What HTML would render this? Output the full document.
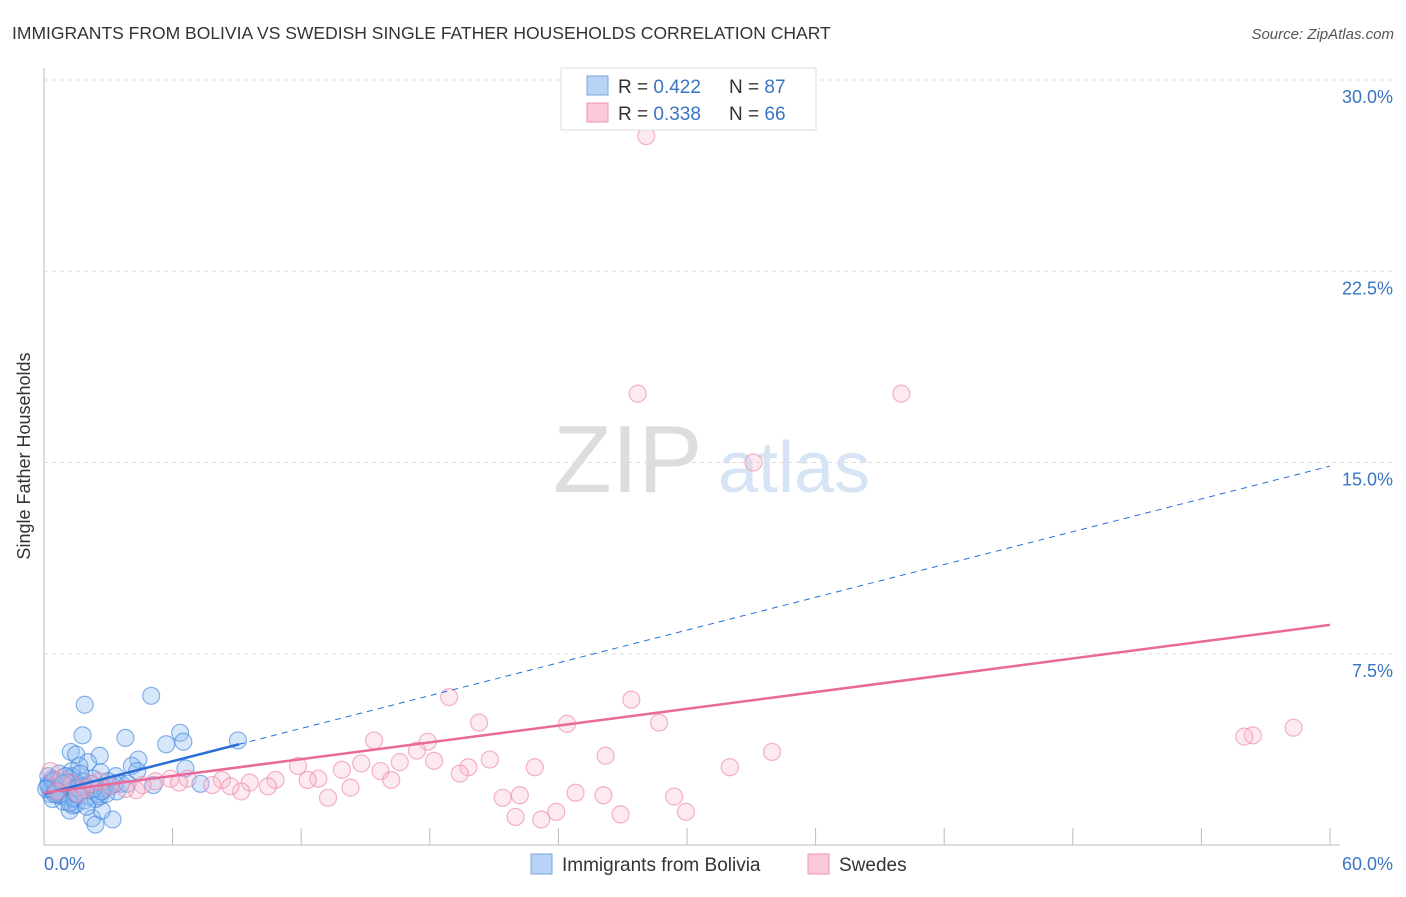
<!DOCTYPE html>
<html><head><meta charset="utf-8"><style>
body{margin:0;background:#fff;font-family:"Liberation Sans",sans-serif}
svg text{font-family:"Liberation Sans",sans-serif}
</style></head><body>
<svg width="1406" height="892" viewBox="0 0 1406 892">
<text x="12" y="39" font-size="17.5" fill="#333">IMMIGRANTS FROM BOLIVIA VS SWEDISH SINGLE FATHER HOUSEHOLDS CORRELATION CHART</text>
<text x="1394" y="39" font-size="15" fill="#555" font-style="italic" text-anchor="end">Source: ZipAtlas.com</text>
<text x="553" y="492" font-size="96" fill="#ddd" font-family="Liberation Serif">ZIP</text>
<text x="718" y="492" font-size="72" fill="#d6e4f5">atlas</text>
<g id="grid"></g>
<g id="pts"></g>
<g id="lines"></g>
<text transform="translate(30,456) rotate(-90)" font-size="18" fill="#333" text-anchor="middle">Single Father Households</text>
<text x="44" y="870" font-size="18" fill="#3a75c4">0.0%</text>
<text x="1393" y="870" font-size="18" fill="#3a75c4" text-anchor="end">60.0%</text>
<g>
<rect x="561" y="68" width="255" height="62" fill="#fff" stroke="#ddd"/>
<rect x="587" y="76" width="21" height="19" fill="#b8d3f5" stroke="#7aa6e0"/>
<rect x="587" y="103" width="21" height="19" fill="#fcc9d8" stroke="#ee94b0"/>
<text x="618" y="93" font-size="19" fill="#333">R = <tspan fill="#3a75c4">0.422</tspan></text>
<text x="729" y="93" font-size="19" fill="#333">N = <tspan fill="#3a75c4">87</tspan></text>
<text x="618" y="120" font-size="19" fill="#333">R = <tspan fill="#3a75c4">0.338</tspan></text>
<text x="729" y="120" font-size="19" fill="#333">N = <tspan fill="#3a75c4">66</tspan></text>
</g>
<g>
<rect x="531" y="854" width="21" height="20" fill="#b8d3f5" stroke="#7aa6e0"/>
<text x="562" y="871" font-size="19" fill="#333">Immigrants from Bolivia</text>
<rect x="808" y="854" width="21" height="20" fill="#fcc9d8" stroke="#ee94b0"/>
<text x="839" y="871" font-size="19" fill="#333">Swedes</text>
</g>
</svg>
<script>
const yTicks=[7.5,15,22.5,30];
const yTickLabels=["7.5%","15.0%","22.5%","30.0%"];
const xTicks=[6,12,18,24,30,36,42,48,54,60];
const blueX=[1.9,5.0,1.8,3.8,6.35,6.5,5.7,9.05,1.25,1.5,2.6,4.4,2.05,1.65,4.1,4.35,6.6,2.65,3.35,5.1,7.3,1.2,2.25,2.4,3.2,2.7,1.35,0.2,0.4,0.6,0.8,1.0,1.3,1.6,2.0,2.3,2.8,3.0,0.3,0.5,0.9,1.1,1.4,1.7,2.1,2.5,0.2,0.7,1.2,1.8,2.2,3.1,0.4,0.9,1.5,0.6,1.0,1.9,2.6,3.4,3.6,0.3,0.8,1.3,2.4,0.5,1.1,1.6,2.9,0.7,1.4,2.0,0.2,1.0,1.7,2.3,3.3,0.6,1.2,2.7,0.4,0.9,1.5,3.9,0.1,0.5,1.8];
const blueY=[5.5,5.85,4.3,4.2,4.4,4.05,3.95,4.1,3.65,3.55,3.5,3.35,3.25,3.1,3.1,2.9,3.0,2.85,2.7,2.35,2.4,1.35,1.05,0.8,1.0,1.35,1.55,2.4,2.6,2.3,2.5,2.2,2.7,2.4,2.3,2.6,2.2,2.5,2.0,2.1,1.9,2.0,1.8,2.1,1.9,2.0,2.7,2.8,2.6,2.5,2.4,2.3,1.8,1.7,1.6,2.2,2.35,1.75,1.9,2.1,2.4,2.2,2.0,2.9,1.8,2.55,2.45,2.25,2.0,1.95,1.85,1.5,2.3,2.7,2.8,2.2,2.4,2.1,1.65,2.1,2.5,2.4,2.0,2.4,2.2,2.0,2.3];
const pinkX=[28.1,27.7,40.0,33.1,18.9,27.4,20.3,24.4,28.7,58.3,56.4,56.0,15.4,17.9,17.4,33.97,26.2,16.6,20.8,18.2,14.8,11.85,19.8,22.9,32.0,13.9,15.7,19.4,12.8,12.3,16.2,10.8,9.6,8.3,14.3,10.45,9.2,8.7,7.85,6.7,5.9,5.2,6.3,4.6,4.3,3.8,13.25,21.4,22.2,24.8,26.1,29.4,23.9,26.9,29.95,22.0,23.2,0.3,0.8,1.3,1.9,2.6,3.1,0.6,1.6,2.2];
const pinkY=[27.8,17.7,17.7,15.0,5.8,5.7,4.8,4.75,4.8,4.6,4.3,4.25,4.1,4.05,3.7,3.65,3.5,3.25,3.35,3.3,3.2,3.1,3.05,3.05,3.05,2.95,2.9,2.8,2.6,2.55,2.55,2.55,2.45,2.55,2.25,2.3,2.1,2.3,2.35,2.6,2.6,2.5,2.45,2.35,2.15,2.2,1.85,1.85,1.95,2.05,1.95,1.9,1.3,1.2,1.3,1.1,1.0,2.9,2.6,2.4,2.2,2.5,2.3,2.1,2.0,2.4];
const blueFit=[2.0,0.2143], pinkFit=[2.05,0.1097];
const X0=44,X1=1330,Y0=845,PXY=25.5;
const sx=v=>X0+v*(X1-X0)/60, sy=v=>Y0-v*PXY;
const NS="http://www.w3.org/2000/svg";
function mk(t,a,p){const e=document.createElementNS(NS,t);for(const k in a)e.setAttribute(k,a[k]);p.appendChild(e);return e;}
const grid=document.getElementById('grid');
const ax=mk('line',{x1:X0,y1:68,x2:X0,y2:Y0,stroke:'#bbb'},grid);


const bx=mk('line',{x1:X0,y1:Y0,x2:1340,y2:Y0,stroke:'#bbb'},grid);


yTicks.forEach((v,i)=>{
 const g=mk('line',{x1:X0,y1:sy(v),x2:1394,y2:sy(v),stroke:'#ddd','stroke-dasharray':'4,4'},grid);
 
 
 const t=mk('text',{x:1393,y:sy(v)+23,'font-size':18,fill:'#3a75c4','text-anchor':'end'},grid);
 t.textContent=yTickLabels[i];
 
 
});
xTicks.forEach(v=>{
 const l=mk('line',{x1:sx(v),y1:Y0-17,x2:sx(v),y2:Y0,stroke:'#bbb'},grid);
 
 
});
const pts=document.getElementById('pts');
blueX.forEach((x,i)=>{
 const c=mk('circle',{cx:sx(x),cy:sy(blueY[i]),r:8.5,fill:'rgba(140,185,240,0.35)',stroke:'rgba(60,130,220,0.6)','stroke-width':1.2},pts);
 
 
});
pinkX.forEach((x,i)=>{
 const c=mk('circle',{cx:sx(x),cy:sy(pinkY[i]),r:8.5,fill:'rgba(250,185,205,0.3)',stroke:'rgba(235,130,165,0.6)','stroke-width':1.2},pts);
 
 
});
const lines=document.getElementById('lines');
const f=(p,x)=>p[0]+p[1]*x;
const b1=mk('line',{x1:sx(0),y1:sy(f(blueFit,0)),x2:sx(9.1),y2:sy(f(blueFit,9.1)),stroke:'#2a6fd6','stroke-width':2.5},lines);


const b2=mk('line',{x1:sx(9.1),y1:sy(f(blueFit,9.1)),x2:sx(60),y2:sy(f(blueFit,60)),stroke:'#2a6fd6','stroke-width':1,'stroke-dasharray':'6,5'},lines);


const p1=mk('line',{x1:sx(0),y1:sy(f(pinkFit,0)),x2:sx(60),y2:sy(f(pinkFit,60)),stroke:'#e8699a','stroke-width':2.5},lines);


</script>
</body></html>
